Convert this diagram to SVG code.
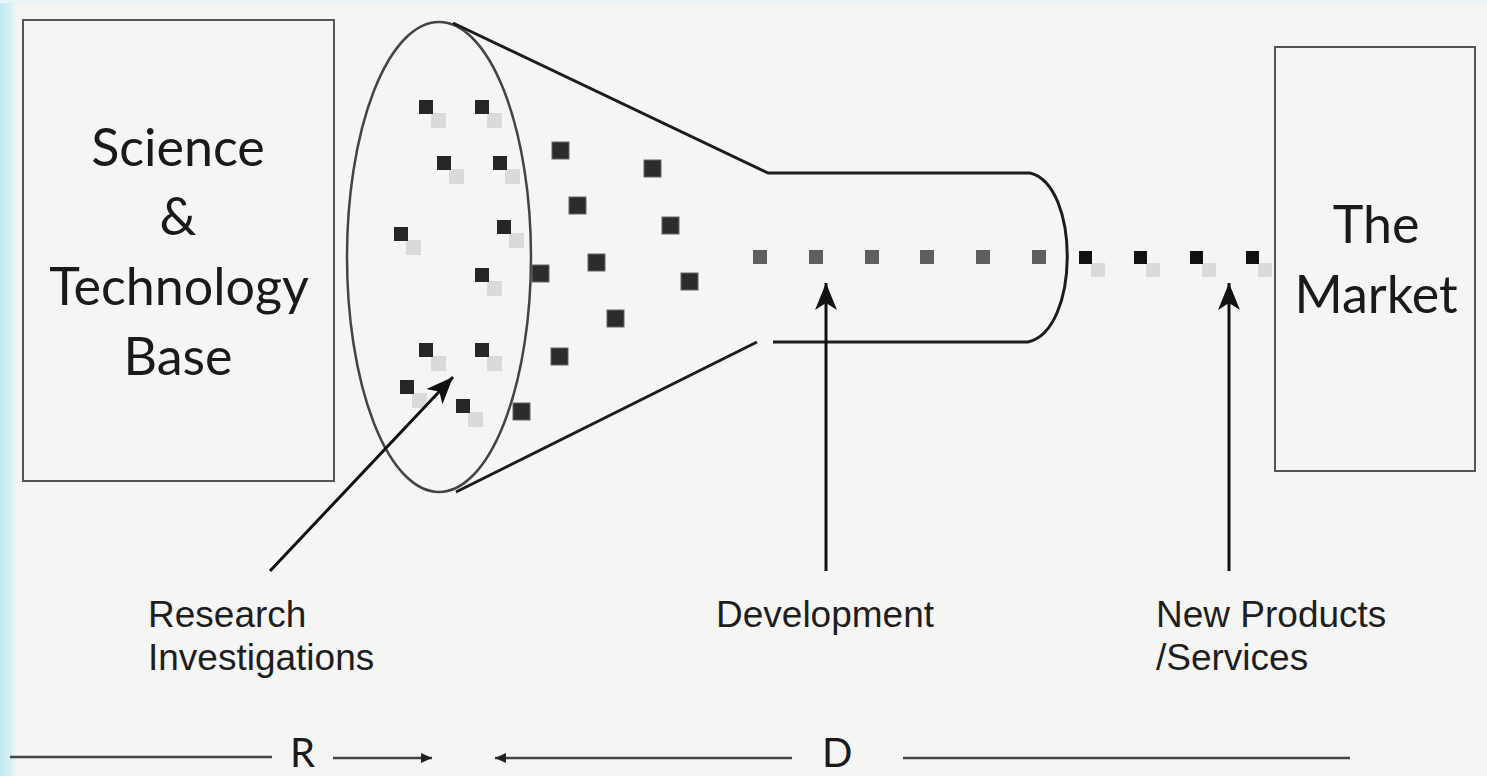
<svg xmlns="http://www.w3.org/2000/svg" width="1487" height="776" viewBox="0 0 1487 776">
  <defs>
    <linearGradient id="edgeGlow" x1="0" y1="0" x2="1" y2="0">
      <stop offset="0" stop-color="#bfe8ef"/>
      <stop offset="0.6" stop-color="#d9f1f4"/>
      <stop offset="1" stop-color="#f5f5f4" stop-opacity="0"/>
    </linearGradient>
    <marker id="stealth" markerUnits="userSpaceOnUse" markerWidth="32" markerHeight="26" refX="27" refY="11" orient="auto">
      <path d="M27,11 L0,0 L7,11 L0,22 Z" fill="#111"/>
    </marker>
    <marker id="tri" markerUnits="userSpaceOnUse" markerWidth="14" markerHeight="12" refX="11" refY="5" orient="auto">
      <path d="M11,5 L0,0 L0,10 Z" fill="#222"/>
    </marker>
    <style>
      .box { fill: none; stroke: #555; stroke-width: 2; }
      .big { font-family: Lato, "Open Sans", sans-serif; font-size: 52px; fill: #1a1a1a; text-anchor: middle; }
      .lbl { font-family: "Liberation Sans", Arial, sans-serif; font-size: 37px; fill: #1e1e1e; }
      .rd { font-family: Lato, "Open Sans", sans-serif; font-size: 40px; fill: #1a1a1a; }
      .funnel { fill: none; stroke: #1c1c1c; stroke-width: 3; stroke-linejoin: round; }
      .mouth { fill: none; stroke: #444; stroke-width: 2.5; }
      .sq { fill: #262626; }
      .sh { fill: #dadada; }
      .sqo { fill: #2c2c2c; stroke: #666; stroke-width: 1; }
      .sqg { fill: #5e5e5e; }
      .sqb { fill: #111; }
      .arrow { stroke: #111; stroke-width: 3; fill: none; }
      .axis { stroke: #444; stroke-width: 2.5; fill: none; }
    </style>
  </defs>

  <!-- background -->
  <rect x="0" y="0" width="1487" height="776" fill="#f5f5f4"/>
  <rect x="0" y="0" width="20" height="776" fill="url(#edgeGlow)"/>
  <rect x="0" y="0" width="1487" height="3" fill="#e6f5f7"/>

  <!-- left node -->
  <g id="science-base">
    <rect class="box" x="23" y="20" width="311" height="461"/>
    <text class="big" x="178" y="166">Science</text>
    <text class="big" x="178" y="235">&amp;</text>
    <text class="big" x="179" y="305">Technology</text>
    <text class="big" x="178" y="375">Base</text>
  </g>

  <!-- right node -->
  <g id="market">
    <rect class="box" x="1275" y="47" width="200" height="424"/>
    <text class="big" x="1376" y="243">The</text>
    <text class="big" x="1376" y="313">Market</text>
  </g>

  <!-- funnel -->
  <g id="funnel">
    <ellipse class="mouth" cx="439" cy="257" rx="92" ry="235"/>
    <path class="funnel" d="M453,23 L768,173 L1030,173 C1080,185 1080,330 1028,342 L773,342"/>
    <path class="funnel" d="M456,492 L757,342"/>
  </g>

  <!-- ideas entering the funnel mouth -->
  <g id="research-ideas">
    <rect class="sh" x="431" y="113" width="15" height="15"/>
    <rect class="sh" x="487" y="113" width="15" height="15"/>
    <rect class="sh" x="449" y="169" width="15" height="15"/>
    <rect class="sh" x="505" y="169" width="15" height="15"/>
    <rect class="sh" x="406" y="240" width="15" height="15"/>
    <rect class="sh" x="509" y="233" width="15" height="15"/>
    <rect class="sh" x="487" y="281" width="15" height="15"/>
    <rect class="sh" x="431" y="356" width="15" height="15"/>
    <rect class="sh" x="487" y="356" width="15" height="15"/>
    <rect class="sh" x="412" y="393" width="15" height="15"/>
    <rect class="sh" x="468" y="412" width="15" height="15"/>

    <rect class="sq" x="419" y="100" width="14" height="14"/>
    <rect class="sq" x="475" y="100" width="14" height="14"/>
    <rect class="sq" x="437" y="156" width="14" height="14"/>
    <rect class="sq" x="493" y="156" width="14" height="14"/>
    <rect class="sq" x="394" y="227" width="14" height="14"/>
    <rect class="sq" x="497" y="220" width="14" height="14"/>
    <rect class="sq" x="475" y="268" width="14" height="14"/>
    <rect class="sq" x="419" y="343" width="14" height="14"/>
    <rect class="sq" x="475" y="343" width="14" height="14"/>
    <rect class="sq" x="400" y="380" width="14" height="14"/>
    <rect class="sq" x="456" y="399" width="14" height="14"/>
  </g>

  <!-- ideas inside the cone -->
  <g id="cone-ideas">
    <rect class="sqo" x="552" y="142" width="17" height="17"/>
    <rect class="sqo" x="644" y="160" width="17" height="17"/>
    <rect class="sqo" x="569" y="197" width="17" height="17"/>
    <rect class="sqo" x="662" y="217" width="17" height="17"/>
    <rect class="sqo" x="532" y="265" width="17" height="17"/>
    <rect class="sqo" x="588" y="254" width="17" height="17"/>
    <rect class="sqo" x="681" y="273" width="17" height="17"/>
    <rect class="sqo" x="607" y="310" width="17" height="17"/>
    <rect class="sqo" x="551" y="348" width="17" height="17"/>
    <rect class="sqo" x="513" y="403" width="17" height="17"/>
  </g>

  <!-- development pipeline -->
  <g id="pipeline">
    <rect class="sqg" x="753" y="250" width="14" height="14"/>
    <rect class="sqg" x="809" y="250" width="14" height="14"/>
    <rect class="sqg" x="865" y="250" width="14" height="14"/>
    <rect class="sqg" x="920" y="250" width="14" height="14"/>
    <rect class="sqg" x="976" y="250" width="14" height="14"/>
    <rect class="sqg" x="1032" y="250" width="14" height="14"/>
  </g>

  <!-- products leaving the funnel -->
  <g id="products">
    <rect class="sh" x="1091" y="263" width="14" height="14"/>
    <rect class="sh" x="1146" y="263" width="14" height="14"/>
    <rect class="sh" x="1202" y="263" width="14" height="14"/>
    <rect class="sh" x="1258" y="263" width="14" height="14"/>
    <rect class="sqb" x="1079" y="251" width="13" height="13"/>
    <rect class="sqb" x="1134" y="251" width="13" height="13"/>
    <rect class="sqb" x="1190" y="251" width="13" height="13"/>
    <rect class="sqb" x="1246" y="251" width="13" height="13"/>
  </g>

  <!-- pointers -->
  <g id="connectors">
    <line class="arrow" x1="270" y1="571" x2="453" y2="377" marker-end="url(#stealth)"/>
    <line class="arrow" x1="826" y1="571" x2="826" y2="283" marker-end="url(#stealth)"/>
    <line class="arrow" x1="1229" y1="571" x2="1229" y2="283" marker-end="url(#stealth)"/>
    <line class="axis" x1="10" y1="757" x2="272" y2="757"/>
    <line class="axis" x1="333" y1="758" x2="432" y2="758" marker-end="url(#tri)"/>
    <line class="axis" x1="792" y1="758" x2="495" y2="758" marker-end="url(#tri)"/>
    <line class="axis" x1="903" y1="758" x2="1350" y2="758"/>
  </g>

  <!-- labels -->
  <g id="labels">
    <text class="lbl" x="148" y="627">Research</text>
    <text class="lbl" x="148" y="670">Investigations</text>
    <text class="lbl" x="716" y="627">Development</text>
    <text class="lbl" x="1156" y="627">New Products</text>
    <text class="lbl" x="1156" y="670">/Services</text>
    <text class="rd" x="290" y="767">R</text>
    <text class="rd" x="822" y="767">D</text>
  </g>
</svg>
